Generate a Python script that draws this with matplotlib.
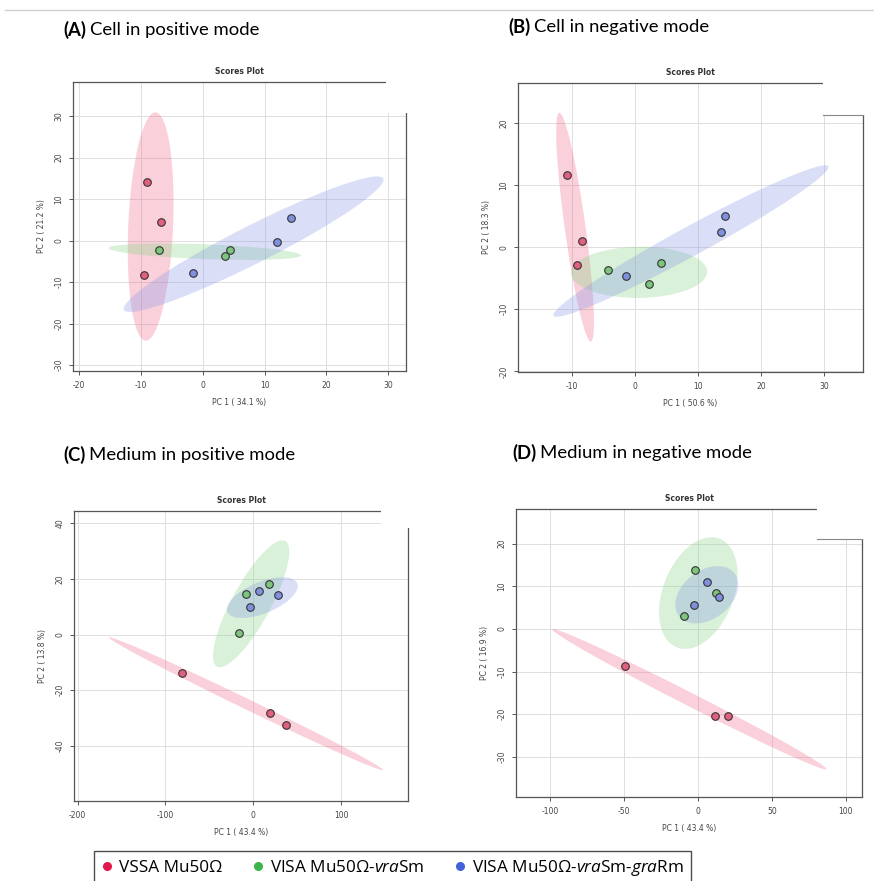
import numpy as np
import matplotlib
matplotlib.use('Agg')
import matplotlib.pyplot as plt
from matplotlib.patches import Ellipse, Rectangle
from matplotlib.lines import Line2D

# PCA scores (3 replicates per strain)
a_vssa_x = [-9.1, -6.7, -9.5]
a_vssa_y = [14.1, 4.4, -8.3]
a_vra_x = [-7.0, 4.4, 3.6]
a_vra_y = [-2.2, -2.2, -3.6]
a_gra_x = [-1.6, 12.0, 14.3]
a_gra_y = [-7.8, -0.3, 5.5]

b_vssa_x = [-10.8, -8.4, -9.2]
b_vssa_y = [11.6, 0.9, -2.9]
b_vra_x = [-4.3, 2.2, 4.1]
b_vra_y = [-3.7, -5.9, -2.6]
b_gra_x = [-1.4, 13.7, 14.3]
b_gra_y = [-4.6, 2.5, 5.0]

c_vssa_x = [-81.0, 19.0, 37.5]
c_vssa_y = [-13.9, -28.1, -32.6]
c_vra_x = [-8.0, 17.4, -16.7]
c_vra_y = [14.6, 18.1, 0.5]
c_gra_x = [6.1, 28.4, -3.8]
c_gra_y = [15.6, 14.3, 9.9]

d_vssa_x = [-49.5, 11.5, 20.1]
d_vssa_y = [-8.7, -20.3, -20.4]
d_vra_x = [-2.3, 12.0, -9.3]
d_vra_y = [13.7, 8.5, 3.0]
d_gra_x = [6.1, 14.5, -2.9]
d_gra_y = [11.0, 7.4, 5.6]

panel_letters = ['(A)', '(B)', '(C)', '(D)']
panel_titles = ['Cell in positive mode', 'Cell in negative mode',
                'Medium in positive mode', 'Medium in negative mode']
pc1_labels = ['PC 1 ( 34.1 %)', 'PC 1 ( 50.6 %)', 'PC 1 ( 43.4 %)', 'PC 1 ( 43.4 %)']
pc2_labels = ['PC 2 ( 21.2 %)', 'PC 2 ( 18.3 %)', 'PC 2 ( 13.8 %)', 'PC 2 ( 16.9 %)']
group_labels = ['VSSA Mu50Ω', 'VISA Mu50Ω-$\\mathit{vra}$Sm',
                'VISA Mu50Ω-$\\mathit{vra}$Sm-$\\mathit{gra}$Rm']

point_cols = ['#e2607f', '#7dc47d', '#7f90dc']
fill_cols = ['#f06e90', '#86d486', '#8c9ae6']
legend_cols = ['#e3194b', '#3db54a', '#4362d9']

plt.rcParams['axes.unicode_minus'] = False
plt.rcParams['mathtext.fontset'] = 'custom'
plt.rcParams['mathtext.rm'] = 'Open Sans'
plt.rcParams['mathtext.it'] = 'Open Sans:italic'

W, H = 874, 881
fig = plt.figure(figsize=(W / 100, H / 100), dpi=100)


def px_axes(left, top, right, bottom):
    return fig.add_axes([left / W, 1 - bottom / H, (right - left) / W, (bottom - top) / H])


def conf_ellipse(ax, x, y, col):
    x = np.asarray(x)
    y = np.asarray(y)
    cov = np.cov(x, y)
    vals, vecs = np.linalg.eigh(cov)
    k = np.sqrt(5.991)  # 95% chi-square, 2 df
    ang = np.degrees(np.arctan2(vecs[1, 1], vecs[0, 1]))
    e = Ellipse((x.mean(), y.mean()), 2 * k * np.sqrt(vals[1]), 2 * k * np.sqrt(vals[0]),
                angle=ang, facecolor=col, edgecolor='none', alpha=0.32, zorder=1.5)
    ax.add_patch(e)


def scores_plot(ax, groups, xlim, ylim, xticks, yticks, xlab, ylab, hide, hide_line):
    for (gx, gy), fc in zip(groups, fill_cols):
        conf_ellipse(ax, gx, gy, fc)
    for (gx, gy), pc in zip(groups, point_cols):
        ax.scatter(gx, gy, s=30, c=pc, edgecolors='#333333', linewidths=0.8, zorder=3)
    ax.set_xlim(xlim)
    ax.set_ylim(ylim)
    ax.set_xticks(xticks)
    ax.set_yticks(yticks)
    ax.set_axisbelow(True)
    ax.grid(True, color='#dedede', lw=0.7)
    for s in ax.spines.values():
        s.set_color('#555555')
        s.set_linewidth(0.9)
    ax.tick_params(direction='out', length=3, width=0.7, color='#555555',
                   labelsize=5.5, labelcolor='#444444', pad=4)
    for t in ax.get_yticklabels():
        t.set_rotation(90)
        t.set_va('center')
    ax.set_xlabel(xlab, fontsize=5.5, color='#444444', labelpad=6)
    ax.set_ylabel(ylab, fontsize=5.5, color='#444444', labelpad=6)
    ax.set_title('Scores Plot', fontsize=5.5, fontweight='bold', color='#333333', pad=6)
    # legend area that was blanked out in the original
    r = Rectangle((hide[0], hide[1]), 1.05 - hide[0], 1.05 - hide[1], transform=ax.transAxes,
                  facecolor='white', edgecolor='none', zorder=4, clip_on=False)
    ax.add_patch(r)
    if hide_line:
        ax.plot([hide[0], 1.0], [hide[1], hide[1]], transform=ax.transAxes,
                color='#888888', lw=0.8, zorder=5, clip_on=False)


axA = px_axes(73, 82, 406, 371)
scores_plot(axA, [(a_vssa_x, a_vssa_y), (a_vra_x, a_vra_y), (a_gra_x, a_gra_y)],
            (-21, 32.9), (-31.4, 38.2), range(-20, 31, 10), range(-30, 31, 10),
            pc1_labels[0], pc2_labels[0], (0.94, 0.893), False)

axB = px_axes(518, 83, 863, 372)
scores_plot(axB, [(b_vssa_x, b_vssa_y), (b_vra_x, b_vra_y), (b_gra_x, b_gra_y)],
            (-18.5, 36.1), (-20.1, 26.4), range(-10, 31, 10), range(-20, 21, 10),
            pc1_labels[1], pc2_labels[1], (0.884, 0.888), True)

axC = px_axes(74, 511, 408, 801)
scores_plot(axC, [(c_vssa_x, c_vssa_y), (c_vra_x, c_vra_y), (c_gra_x, c_gra_y)],
            (-204, 176), (-59.8, 44.4), range(-200, 101, 100), range(-40, 41, 20),
            pc1_labels[2], pc2_labels[2], (0.918, 0.94), False)

axD = px_axes(516, 509, 862, 797)
scores_plot(axD, [(d_vssa_x, d_vssa_y), (d_vra_x, d_vra_y), (d_gra_x, d_gra_y)],
            (-123.3, 111), (-39.4, 28.1), range(-100, 101, 50), range(-30, 21, 10),
            pc1_labels[3], pc2_labels[3], (0.871, 0.897), True)

# panel headings: bold letter + plain text
fig.canvas.draw()
renderer = fig.canvas.get_renderer()
head_pos = [(63, 30), (508, 27), (63, 455), (512, 453)]
for (hx, hy), let, ttl in zip(head_pos, panel_letters, panel_titles):
    t1 = fig.text(hx / W, 1 - hy / H, let, fontsize=13.3, fontweight='bold',
                  family='Lato', va='center', ha='left')
    bb = t1.get_window_extent(renderer)
    fig.text((bb.x1 + 4) / W, 1 - hy / H, ttl, fontsize=13.3, family='Lato',
             va='center', ha='left')

# thin separator at the very top
fig.add_artist(Line2D([5 / W, 1], [1 - 10 / H, 1 - 10 / H], transform=fig.transFigure,
                      color='#d0d0d0', lw=1))

handles = [Line2D([], [], ls='none', marker='o', ms=5.5, color=c) for c in legend_cols]
leg = fig.legend(handles, group_labels, ncol=3, loc='lower left',
                 bbox_to_anchor=(85 / W, -0.014), frameon=True, fancybox=False,
                 edgecolor='#222222', handletextpad=0.3, columnspacing=1.7,
                 borderpad=0.4, handlelength=0.8, prop={'family': 'Open Sans', 'size': 12.3})
leg.get_frame().set_linewidth(1.0)

fig.savefig('out.png', dpi=100)
